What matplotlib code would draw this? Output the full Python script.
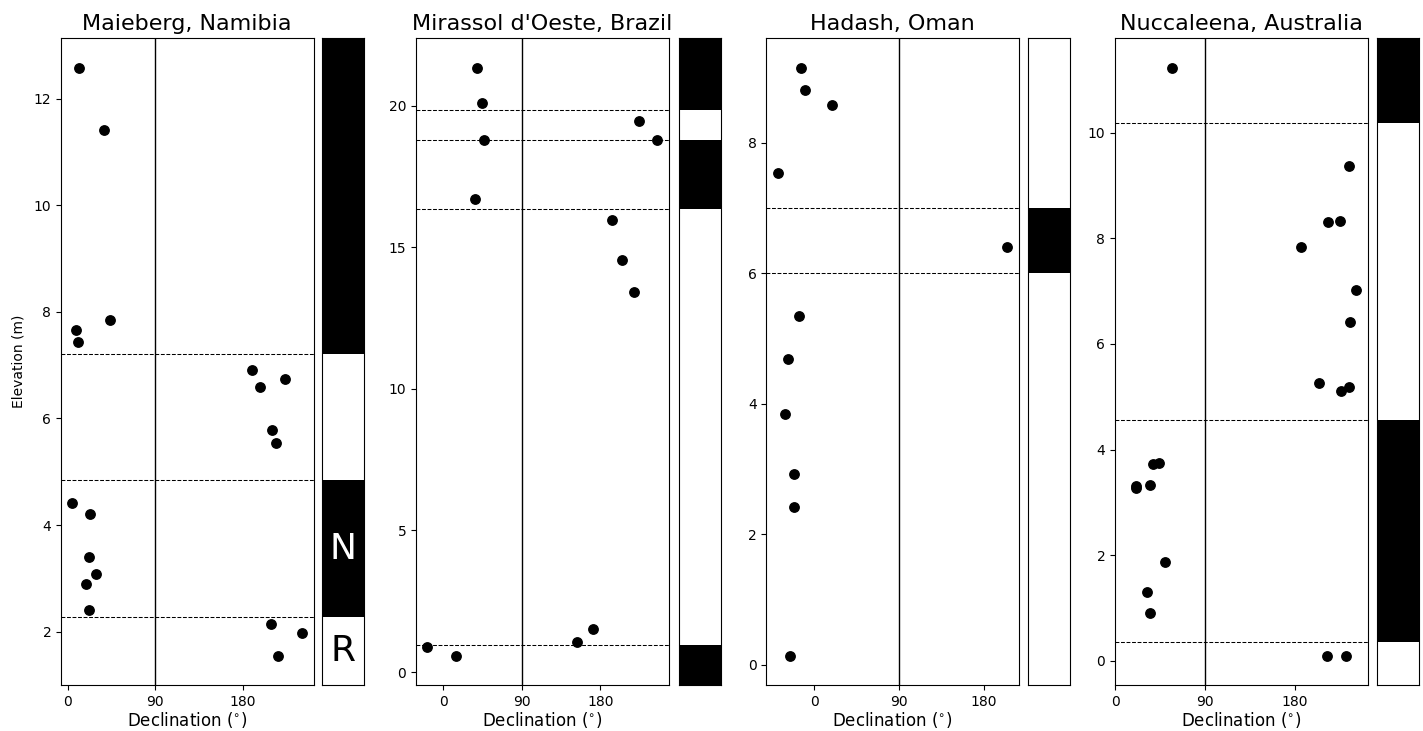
import matplotlib
matplotlib.use("Agg")
import matplotlib.pyplot as plt

# ---- Site data: declination (deg) and stratigraphic elevation (m) ----
sites = ["Maieberg, Namibia", "Mirassol d'Oeste, Brazil", "Hadash, Oman", "Nuccaleena, Australia"]

maieberg_dec = [11.7, 37.4, 43.1, 8.9, 10.3, 188.9, 197.5, 223.2, 210.2, 214.3,
                4.8, 23.3, 21.6, 29.1, 18.9, 21.6, 209.1, 240.6, 215.6]
maieberg_elev = [12.58, 11.41, 7.84, 7.66, 7.44, 6.91, 6.59, 6.74, 5.78, 5.53,
                 4.41, 4.21, 3.40, 3.09, 2.90, 2.40, 2.14, 1.98, 1.55]
maieberg_bounds = [7.21, 4.84, 2.27]
maieberg_polarity = ["N", "R", "N", "R"]          # top to bottom

mirassol_dec = [38.2, 44.5, 46.9, 37.0, 223.9, 245.0, 193.0, 205.2, 218.1,
                -18.0, 14.8, 153.6, 171.9]
mirassol_elev = [21.34, 20.11, 18.79, 16.71, 19.45, 18.79, 15.97, 14.56, 13.41,
                 0.87, 0.58, 1.06, 1.52]
mirassol_bounds = [19.86, 18.78, 16.34, 0.94]
mirassol_polarity = ["N", "R", "N", "R", "N"]

hadash_dec = [-13.5, -9.5, 19.1, -38.5, 205.0, -15.6, -27.6, -31.1, -20.9, -20.9, -25.1]
hadash_elev = [9.15, 8.81, 8.58, 7.54, 6.40, 5.35, 4.68, 3.84, 2.93, 2.41, 0.14]
hadash_bounds = [7.0, 6.0]
hadash_polarity = ["R", "N", "R"]

nuccaleena_dec = [57.1, 234.5, 213.7, 225.4, 186.4, 241.8, 235.8, 204.7, 226.5, 234.5,
                  38.4, 44.4, 21.3, 21.3, 35.1, 50.4, 32.1, 35.1, 212.7, 231.1]
nuccaleena_elev = [11.23, 9.36, 8.30, 8.32, 7.84, 7.03, 6.42, 5.26, 5.10, 5.18,
                   3.72, 3.74, 3.31, 3.27, 3.33, 1.87, 1.31, 0.91, 0.10, 0.10]
nuccaleena_bounds = [10.18, 4.56, 0.35]
nuccaleena_polarity = ["N", "R", "N", "R"]

decs = [maieberg_dec, mirassol_dec, hadash_dec, nuccaleena_dec]
elevs = [maieberg_elev, mirassol_elev, hadash_elev, nuccaleena_elev]
bounds = [maieberg_bounds, mirassol_bounds, hadash_bounds, nuccaleena_bounds]
polarities = [maieberg_polarity, mirassol_polarity, hadash_polarity, nuccaleena_polarity]

xticks = [0, 90, 180]

# ---- Layout (pixels) ----
W, H = 1423, 731
fig = plt.figure(figsize=(W / 100, H / 100), dpi=100)
ax_top, ax_bot = 38.3, 685.0
main_left = [61.0, 416.0, 766.3, 1115.0]
main_width = 252.5
col_left = [322.0, 678.5, 1027.5, 1376.8]
col_width = 42.0


def frac_rect(left, width):
    return [left / W, (H - ax_bot) / H, width / W, (ax_bot - ax_top) / H]


for i, name in enumerate(sites):
    ax = fig.add_axes(frac_rect(main_left[i], main_width))
    ax.scatter(decs[i], elevs[i], s=46, color="black", zorder=3)
    ax.axvline(90, color="black", lw=1.0, zorder=1)
    for b in bounds[i]:
        ax.axhline(b, color="black", lw=0.75, ls="--", zorder=1)
    if i == 3:
        ax.set_xlim(left=0)
    ax.set_xticks(xticks)
    ax.tick_params(labelsize=10)
    ax.set_xlabel(r"Declination ($^{\circ}$)", fontsize=12, labelpad=1)
    ax.set_title(name, fontsize=16)
    if i == 0:
        ax.set_ylabel("Elevation (m)", fontsize=10, labelpad=6)
    y0, y1 = ax.get_ylim()

    # polarity column
    cax = fig.add_axes(frac_rect(col_left[i], col_width))
    cax.set_xlim(0, 1)
    cax.set_ylim(y0, y1)
    cax.set_xticks([])
    cax.set_yticks([])
    edges = [y1] + list(bounds[i]) + [y0]
    for k, pol in enumerate(polarities[i]):
        if pol == "N":
            cax.axhspan(edges[k + 1], edges[k], color="black", lw=0)
    if i == 0:
        n_mid = 0.5 * (edges[2] + edges[3])
        r_mid = 0.5 * (edges[3] + edges[4])
        cax.text(0.5, n_mid, "N", color="white", fontsize=26, ha="center", va="center")
        cax.text(0.5, r_mid, "R", color="black", fontsize=26, ha="center", va="center")

fig.savefig("out.png", dpi=100)
